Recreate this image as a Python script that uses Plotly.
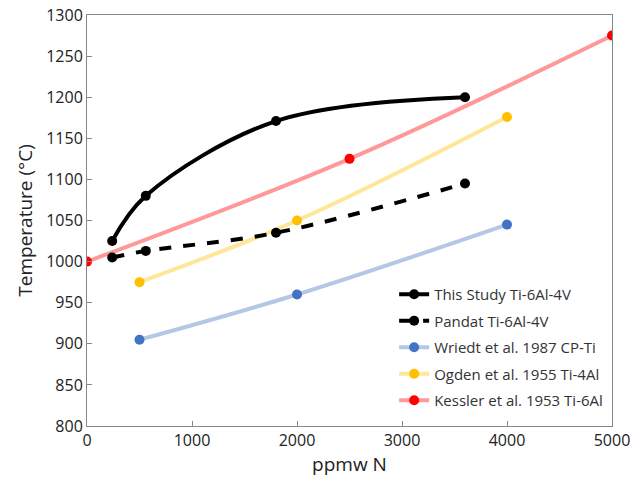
import plotly.graph_objects as go

# Data
study_x = [240, 560, 1800, 3600]
study_y = [1025, 1080, 1171, 1200]
pandat_x = [240, 560, 1800, 3600]
pandat_y = [1005, 1013, 1035, 1095]
wriedt_x = [500, 2000, 4000]
wriedt_y = [905, 960, 1045]
ogden_x = [500, 2000, 4000]
ogden_y = [975, 1050, 1176]
kessler_x = [0, 2500, 5000]
kessler_y = [1000, 1125, 1275]

x_ticks = [0, 1000, 2000, 3000, 4000, 5000]
y_ticks = list(range(800, 1301, 50))

FONT = "Open Sans"

fig = go.Figure()

def add(x, y, name, lcol, mcol, rank, dash="solid"):
    fig.add_trace(go.Scatter(
        x=x, y=y, name=name, mode="lines+markers",
        legendgroup=name, legendrank=rank,
        line=dict(color=lcol, width=4, dash=dash, shape="spline", smoothing=1.0),
        marker=dict(color=mcol, size=10),
    ))

add(kessler_x, kessler_y, "Kessler et al. 1953 Ti-6Al", "#FF9999", "#FF0000", 5)
add(ogden_x, ogden_y, "Ogden et al. 1955 Ti-4Al", "#FFE699", "#FFC000", 4)
add(wriedt_x, wriedt_y, "Wriedt et al. 1987 CP-Ti", "#B4C7E7", "#4472C4", 3)
add(pandat_x, pandat_y, "Pandat Ti-6Al-4V", "#000000", "#000000", 2, dash="dash")
add(study_x, study_y, "This Study Ti-6Al-4V", "#000000", "#000000", 1)

fig.update_layout(
    width=630, height=482,
    margin=dict(l=87, r=18, t=15, b=56, autoexpand=False),
    paper_bgcolor="white", plot_bgcolor="white",
    font=dict(family=FONT, color="#222222"),
    showlegend=True,
    legend=dict(
        x=0.585, y=0.36, xanchor="left", yanchor="top",
        tracegroupgap=4,
        font=dict(size=15, color="#333333", family=FONT),
        bgcolor="rgba(255,255,255,0)",
        itemwidth=30,
    ),
    xaxis=dict(
        range=[0, 5000], tickvals=x_ticks, ticks="inside", ticklen=5,
        tickcolor="#888888", showline=True, linecolor="#888888", linewidth=1,
        mirror=True, showgrid=False, zeroline=False, automargin=False,
        tickfont=dict(size=16, family=FONT), ticklabeloverflow="allow",
        title=dict(text="ppmw N", font=dict(size=19, family=FONT), standoff=6),
    ),
    yaxis=dict(
        range=[800, 1300], tickvals=y_ticks, ticks="inside", ticklen=5,
        tickcolor="#888888", showline=True, linecolor="#888888", linewidth=1,
        mirror=True, showgrid=False, zeroline=False, automargin=False,
        tickfont=dict(size=16, family=FONT),
        title=dict(text="Temperature (°C)", font=dict(size=19, family=FONT), standoff=8),
    ),
)

fig.write_html("out.html")
